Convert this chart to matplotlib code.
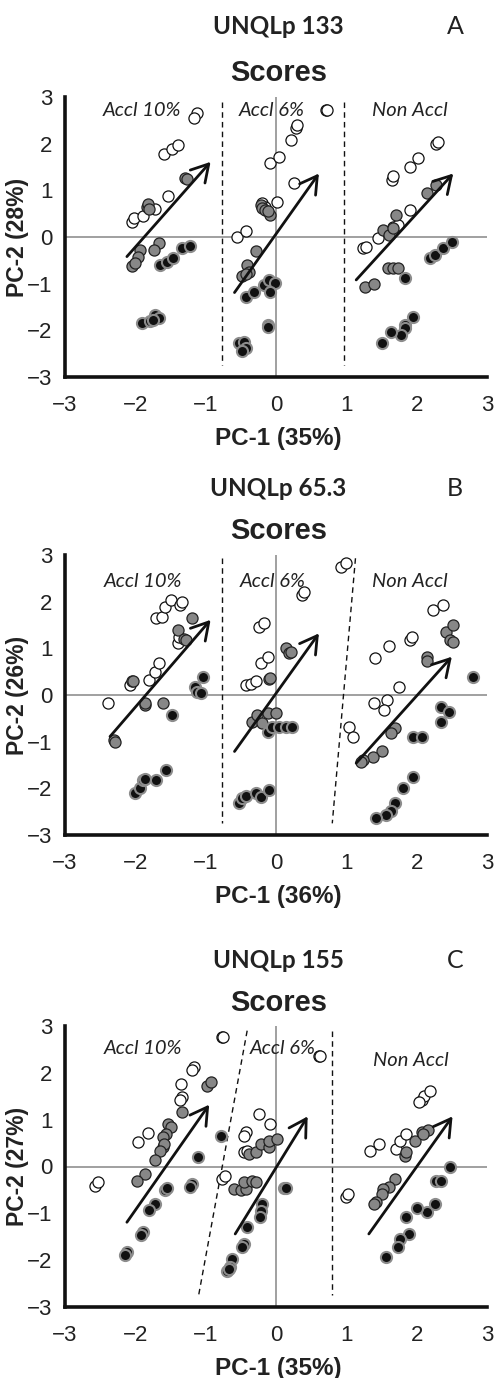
import matplotlib

matplotlib.use("Agg")
import matplotlib.pyplot as plt  # noqa: E402

W, H = 496, 1378
ZERO = "#a0a0a0"

# ---- panel A: UNQLp 133 -------------------------------------------------
A_OPEN = [(-2.05, 0.33), (-2.02, 0.40), (-1.89, 0.45), (-1.72, 0.61), (-1.53, 0.88),
          (-1.59, 1.78), (-1.48, 1.88), (-1.40, 1.97), (-1.13, 2.65), (-1.17, 2.55),
          (-0.55, -0.01), (-0.43, 0.13), (-0.20, 0.72), (-0.15, 0.65), (0.02, 0.76),
          (0.26, 1.16), (-0.08, 1.58), (0.04, 1.72), (0.21, 2.08), (0.28, 2.33),
          (0.30, 2.40), (0.71, 2.72), (0.73, 2.72),
          (1.23, -0.24), (1.28, -0.21), (1.45, -0.03), (1.66, 0.22), (1.73, 0.26),
          (1.90, 0.58), (1.65, 1.22), (1.66, 1.30), (1.90, 1.51), (2.02, 1.69),
          (2.28, 2.00), (2.30, 2.04)]
A_GRAY = [(-1.84, 0.64), (-1.82, 0.70), (-1.80, 0.60), (-1.29, 1.26), (-1.26, 1.24),
          (-1.67, -0.13), (-1.74, -0.28), (-1.93, -0.28), (-1.96, -0.42), (-2.05, -0.62),
          (-2.00, -0.55),
          (-0.22, 0.68), (-0.20, 0.62), (-0.15, 0.58), (-0.08, 0.47), (-0.11, 0.55),
          (-0.29, -0.31), (-0.41, -0.60), (-0.39, -0.74), (-0.49, -0.84), (-0.42, -0.80),
          (1.52, 0.15), (1.61, 0.04), (1.66, 0.19), (1.71, 0.47), (2.14, 0.94),
          (2.28, 1.11), (1.59, -0.67), (1.66, -0.67), (1.73, -0.67), (1.26, -1.08),
          (1.40, -1.01)]
A_DARK = [(-1.65, -0.60), (-1.55, -0.53), (-1.46, -0.45), (-1.34, -0.24), (-1.22, -0.19),
          (-1.91, -1.85), (-1.79, -1.81), (-1.72, -1.67), (-1.67, -1.74), (-1.75, -1.78),
          (-0.43, -1.28), (-0.31, -1.17), (-0.17, -1.03), (-0.10, -0.92), (-0.01, -0.98),
          (-0.09, -1.17), (-0.53, -2.28), (-0.46, -2.24), (-0.43, -2.38), (-0.48, -2.45),
          (-0.11, -1.88), (-0.12, -1.93),
          (1.83, -0.88), (2.19, -0.46), (2.26, -0.39), (2.38, -0.24), (2.50, -0.10),
          (1.95, -1.71), (1.83, -1.88), (1.83, -1.95), (1.78, -2.10), (1.64, -2.03),
          (1.51, -2.28)]
A_ARROWS = [(-2.12, -0.42, -0.93, 1.61), (-0.59, -1.19, 0.61, 1.36), (1.14, -0.92, 2.52, 1.36)]
A_DIVIDERS = [(-0.77, 2.9, -0.77, -2.75), (0.96, 2.9, 0.96, -2.75)]

# ---- panel B: UNQLp 65.3 ------------------------------------------------
B_OPEN = [(-2.39, -0.18), (-2.08, 0.21), (-1.81, 0.32), (-1.72, 0.50), (-1.67, 0.69),
          (-1.70, 1.64), (-1.62, 1.68), (-1.58, 1.89), (-1.49, 2.04), (-1.36, 1.93),
          (-1.33, 2.00), (-1.40, 1.11), (-1.38, 1.25),
          (-0.24, 1.46), (-0.17, 1.55), (0.37, 2.14), (0.40, 2.21), (0.92, 2.75),
          (0.99, 2.82), (-0.22, 0.68), (-0.11, 0.81), (-0.43, 0.21), (-0.36, 0.24),
          (-0.29, 0.29),
          (1.41, 0.79), (1.60, 1.05), (1.90, 1.18), (1.94, 1.25), (2.23, 1.82),
          (2.37, 1.93), (1.75, 0.18), (1.40, -0.18), (1.58, -0.11), (1.54, -0.32),
          (1.04, -0.68), (1.09, -0.91)]
B_GRAY = [(-2.05, 0.30), (-2.03, 0.30), (-1.39, 1.39), (-1.31, 1.21), (-1.28, 1.18),
          (-1.20, 1.64), (-1.86, -0.21), (-1.86, -0.17), (-1.60, -0.18), (-2.31, -0.96),
          (-2.29, -1.00),
          (-0.10, 0.34), (-0.08, 0.36), (0.14, 1.00), (0.19, 0.89), (0.21, 0.93),
          (-0.34, -0.57), (-0.27, -0.43), (-0.20, -0.61), (-0.12, -0.39), (0.00, -0.39),
          (2.42, 1.36), (2.52, 1.50), (2.47, 1.18), (2.52, 1.14), (2.14, 0.82),
          (2.14, 0.72), (1.69, -0.71), (1.64, -0.82), (1.50, -1.21), (1.38, -1.32),
          (1.23, -1.39), (1.21, -1.43)]
B_DARK = [(-1.15, 0.18), (-1.12, 0.07), (-1.06, 0.04), (-1.04, 0.39), (-1.48, -0.43),
          (-2.00, -2.11), (-1.93, -2.00), (-1.89, -1.82), (-1.86, -1.79), (-1.71, -1.82),
          (-1.57, -1.61),
          (-0.12, -0.79), (-0.05, -0.68), (0.04, -0.68), (0.14, -0.68), (0.23, -0.69),
          (-0.53, -2.32), (-0.48, -2.21), (-0.43, -2.16), (-0.29, -2.11), (-0.22, -2.18),
          (-0.10, -2.04),
          (2.80, 0.39), (2.35, -0.25), (2.46, -0.36), (2.35, -0.57), (1.95, -0.89),
          (2.07, -0.89), (1.95, -1.76), (1.80, -1.99), (1.69, -2.31), (1.64, -2.48),
          (1.57, -2.57), (1.42, -2.64)]
B_ARROWS = [(-2.36, -0.89, -0.93, 1.61), (-0.59, -1.21, 0.61, 1.32), (1.14, -1.46, 2.50, 0.82)]
B_DIVIDERS = [(-0.77, 2.94, -0.77, -2.75), (1.13, 2.93, 0.80, -2.75)]

# ---- panel C: UNQLp 155 -------------------------------------------------
C_OPEN = [(-0.77, 2.77), (-0.75, 2.77), (-1.17, 2.12), (-1.20, 2.05), (-1.35, 1.76),
          (-1.34, 1.48), (-1.37, 1.41), (-1.96, 0.52), (-1.82, 0.71), (-2.58, -0.41),
          (-2.53, -0.33),
          (0.61, 2.35), (0.63, 2.35), (-0.24, 1.12), (-0.09, 0.91), (-0.43, 0.73),
          (-0.46, 0.66), (-0.46, 0.31), (-0.41, 0.34), (-0.77, -0.26), (-0.73, -0.21),
          (2.07, 1.41), (2.11, 1.51), (2.19, 1.62), (2.04, 1.37), (1.33, 0.34),
          (1.47, 0.48), (1.71, 0.38), (1.76, 0.55), (1.85, 0.70), (1.00, -0.65),
          (1.02, -0.58)]
C_GRAY = [(-0.98, 1.71), (-0.92, 1.80), (-1.34, 1.16), (-1.53, 0.91), (-1.50, 0.84),
          (-1.57, 0.70), (-1.60, 0.62), (-1.60, 0.41), (-1.59, 0.48), (-1.65, 0.34),
          (-1.72, 0.13), (-1.86, -0.17), (-1.98, -0.30),
          (-0.39, 0.27), (-0.29, 0.31), (-0.22, 0.48), (-0.10, 0.41), (-0.10, 0.55),
          (0.02, 0.59), (-0.60, -0.48), (-0.50, -0.51), (-0.43, -0.48), (-0.46, -0.33),
          (-0.34, -0.30), (-0.29, -0.33),
          (1.83, 0.23), (1.85, 0.30), (1.97, 0.55), (2.07, 0.73), (2.16, 0.78),
          (2.09, 0.70), (1.69, -0.26), (1.61, -0.44), (1.52, -0.48), (1.50, -0.58),
          (1.42, -0.76), (1.40, -0.80)]
C_DARK = [(-1.11, 0.20), (-0.78, 0.66), (-1.20, -0.37), (-1.22, -0.43), (-1.58, -0.50),
          (-1.55, -0.45), (-1.72, -0.80), (-1.81, -0.92), (-1.89, -1.40), (-1.92, -1.47),
          (-2.12, -1.83), (-2.15, -1.90),
          (0.11, -0.45), (0.14, -0.45), (-0.20, -0.80), (-0.22, -0.94), (-0.23, -1.08),
          (-0.41, -1.29), (-0.46, -1.65), (-0.49, -1.72), (-0.62, -1.97), (-0.65, -2.15),
          (-0.70, -2.23), (-0.67, -2.18),
          (2.47, -0.01), (2.28, -0.30), (2.35, -0.30), (2.26, -0.81), (2.14, -0.97),
          (2.00, -0.88), (1.85, -1.08), (1.89, -1.44), (1.76, -1.54), (1.73, -1.72),
          (1.57, -1.93)]
C_ARROWS = [(-2.12, -1.19, -0.95, 1.32), (-0.58, -1.44, 0.45, 1.07), (1.32, -1.44, 2.51, 1.07)]
C_DIVIDERS = [(-0.41, 2.9, -1.10, -2.75), (0.80, 2.9, 0.80, -2.75)]

GROUPS = ["Accl 10%", "Accl 6%", "Non Accl"]
TICKS = [-3, -2, -1, 0, 1, 2, 3]

PANELS = [
    dict(name="UNQLp 133", tag="A", pc1="PC-1 (35%)", pc2="PC-2 (28%)",
         open=A_OPEN, gray=A_GRAY, dark=A_DARK, arrows=A_ARROWS, dividers=A_DIVIDERS,
         top=97, bottom=377, title_y=26, scores_y=73,
         label_xy=[(-1.91, 2.72), (-0.06, 2.72), (1.90, 2.72)]),
    dict(name="UNQLp 65.3", tag="B", pc1="PC-1 (36%)", pc2="PC-2 (26%)",
         open=B_OPEN, gray=B_GRAY, dark=B_DARK, arrows=B_ARROWS, dividers=B_DIVIDERS,
         top=555, bottom=835, title_y=488, scores_y=531,
         label_xy=[(-1.89, 2.43), (-0.05, 2.43), (1.90, 2.43)]),
    dict(name="UNQLp 155", tag="C", pc1="PC-1 (35%)", pc2="PC-2 (27%)",
         open=C_OPEN, gray=C_GRAY, dark=C_DARK, arrows=C_ARROWS, dividers=C_DIVIDERS,
         top=1026, bottom=1307, title_y=960, scores_y=1003,
         label_xy=[(-1.89, 2.52), (0.10, 2.52), (1.92, 2.26)]),
]

AX_LEFT, AX_RIGHT = 65, 487
SANS = ["Liberation Sans", "DejaVu Sans"]
HUMAN = ["Lato", "DejaVu Sans"]


def fx(px):
    return px / W


def fy(py):
    return 1 - py / H


def scatter(ax, pts, face, edge, lw):
    xs = [p[0] for p in pts]
    ys = [p[1] for p in pts]
    ax.scatter(xs, ys, s=64, facecolor=face, edgecolor=edge, linewidths=lw, zorder=3)


fig = plt.figure(figsize=(W / 100, H / 100), dpi=100)

for p in PANELS:
    ax = fig.add_axes([fx(AX_LEFT), fy(p["bottom"]), (AX_RIGHT - AX_LEFT) / W,
                       (p["bottom"] - p["top"]) / H])
    ax.set_xlim(-3, 3)
    ax.set_ylim(-3, 3)
    for side in ("top", "right"):
        ax.spines[side].set_visible(False)
    for side in ("left", "bottom"):
        ax.spines[side].set_linewidth(2.6)
        ax.spines[side].set_color("#111111")
    ax.set_xticks(TICKS)
    ax.set_yticks(TICKS)
    ax.tick_params(length=0, labelsize=16, colors="#222222")
    ax.tick_params(axis="x", pad=13)
    ax.tick_params(axis="y", pad=9)
    for t in ax.get_xticklabels() + ax.get_yticklabels():
        t.set_family(SANS)

    ax.axhline(0, color=ZERO, linewidth=1.4, zorder=1)
    ax.axvline(0, color=ZERO, linewidth=1.4, zorder=1)

    for x0, y0, x1, y1 in p["dividers"]:
        ax.plot([x0, x1], [y0, y1], color="#111111", linewidth=1.0,
                linestyle=(0, (4, 3)), zorder=1)

    scatter(ax, p["open"], "white", "#111111", 0.9)
    scatter(ax, p["gray"], "#878787", "#222222", 0.9)
    scatter(ax, p["dark"], "#111111", "#8c8c8c", 1.5)

    for x0, y0, x1, y1 in p["arrows"]:
        ax.annotate("", xy=(x1, y1), xytext=(x0, y0),
                    arrowprops=dict(arrowstyle="->,head_length=0.55,head_width=0.32",
                                    color="#111111", lw=2.0, mutation_scale=22,
                                    shrinkA=0, shrinkB=0),
                    zorder=4)

    for text, (lx, ly) in zip(GROUPS, p["label_xy"]):
        ax.text(lx, ly, text, ha="center", va="center", fontsize=14.5, style="italic",
                family=HUMAN, color="#222222", zorder=2)

    mid = (p["top"] + p["bottom"]) / 2
    fig.text(fx(278), fy(p["title_y"]), p["name"], ha="center", va="center",
             fontsize=17.5, fontweight="bold", family=HUMAN, color="#222222")
    fig.text(fx(455), fy(p["title_y"]), p["tag"], ha="center", va="center",
             fontsize=18, family=HUMAN, color="#222222")
    fig.text(fx(279), fy(p["scores_y"]), "Scores", ha="center", va="center",
             fontsize=21, fontweight="bold", family=SANS, color="#222222")
    fig.text(fx(278), fy(p["bottom"] + 61), p["pc1"], ha="center", va="center",
             fontsize=17.5, fontweight="bold", family=SANS, color="#222222")
    fig.text(fx(18), fy(mid), p["pc2"], ha="center", va="center", rotation=90,
             fontsize=16.5, fontweight="bold", family=SANS, color="#222222")

fig.savefig("out.png", dpi=100, facecolor="white")
